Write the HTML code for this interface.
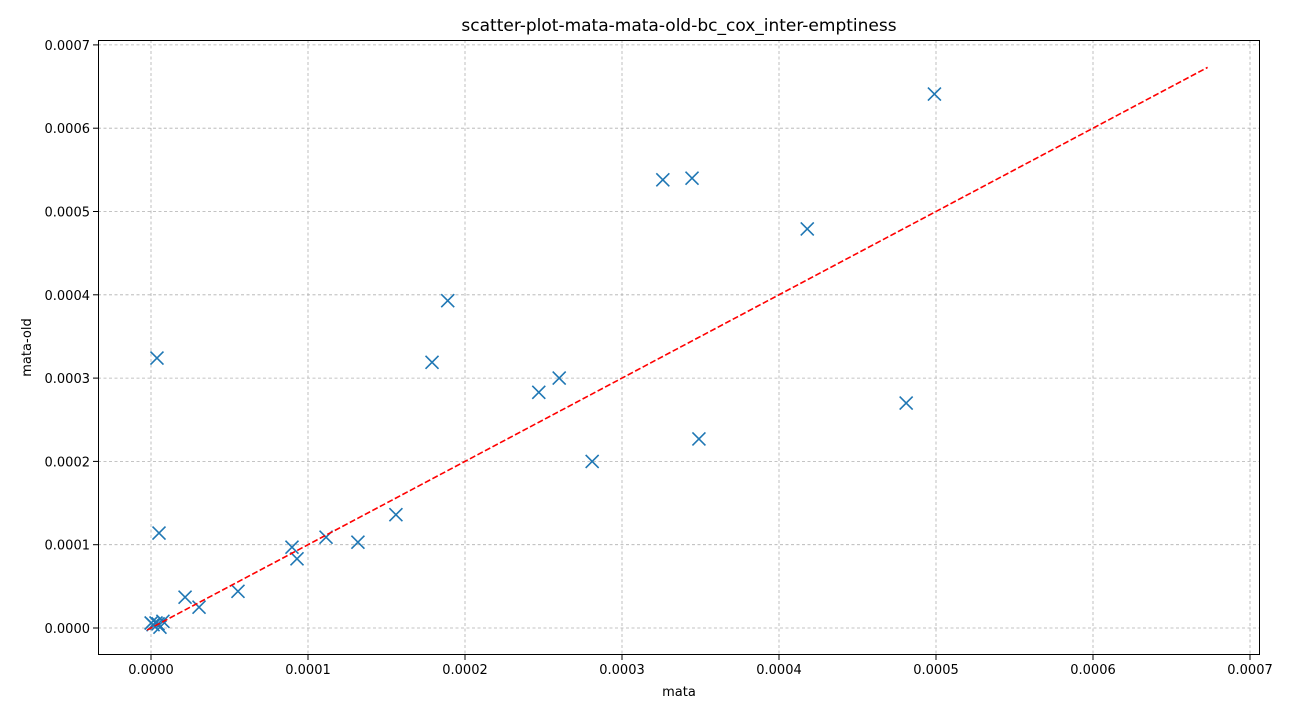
<!DOCTYPE html>
<html><head><meta charset="utf-8"><style>
body{margin:0;background:#fff;}
svg{display:block;font-family:"DejaVu Sans","Liberation Sans",sans-serif;}
</style></head><body>
<svg id="chart" width="1294" height="719" viewBox="0 0 1294 719"></svg>
<script>
const xVals=[0.0000038,0.0000051,0.0000217,0.0000306,0.0000554,0.0000898,0.000093,0.0001115,0.0001318,0.000156,0.000179,0.000189,0.000247,0.00026,0.000281,0.000326,0.0003446,0.000349,0.000418,0.000481,0.000499,0.0000001,0.0000013,0.0000032,0.0000057,0.0000076,0.0000045];
const yVals=[0.000324,0.000114,0.000037,0.000025,0.000044,0.000097,0.000083,0.000109,0.000103,0.000136,0.000319,0.000393,0.000283,0.0003,0.0002,0.000538,0.00054,0.000227,0.000479,0.00027,0.000641,0.000006,0.000004,0.000006,0.000001,0.000008,0.000005];
const xTicks=[0,0.0001,0.0002,0.0003,0.0004,0.0005,0.0006,0.0007];
const yTicks=[0,0.0001,0.0002,0.0003,0.0004,0.0005,0.0006,0.0007];
const fitLine=[-0.0000025,0.000673];

const svg=document.getElementById('chart');
const NS='http://www.w3.org/2000/svg';
const L=98,R=1260,T=40,B=655;
const sx=v=>151+v/0.0001*157;
const sy=v=>628-v/0.0001*83.3;
function mk(tag,attrs,parent){const e=document.createElementNS(NS,tag);for(const k in attrs)e.setAttribute(k,attrs[k]);(parent||svg).appendChild(e);return e;}

const grid=mk('g',{});


xTicks.forEach(t=>{
  const x=sx(t);
  const gl=mk('line',{x1:x,x2:x,y1:T,y2:B,stroke:'#b0b0b0','stroke-width':0.8,'stroke-dasharray':'3,2.5'},grid);
  
  
  mk('line',{x1:x,x2:x,y1:B,y2:B+5,stroke:'#000','stroke-width':1});
  const tx=mk('text',{x:x,y:B+19,'font-size':13,'text-anchor':'middle',fill:'#000'});
  tx.textContent=t.toFixed(4);
  
  
});
yTicks.forEach(t=>{
  const y=sy(t);
  const gl=mk('line',{x1:L,x2:R,y1:y,y2:y,stroke:'#b0b0b0','stroke-width':0.8,'stroke-dasharray':'3,2.5'},grid);
  
  
  mk('line',{x1:L-5,x2:L,y1:y,y2:y,stroke:'#000','stroke-width':1});
  const tx=mk('text',{x:L-8,y:y+5,'font-size':13,'text-anchor':'end',fill:'#000'});
  tx.textContent=t.toFixed(4);
  
  
});

const pts=mk('g',{});


const s=6.5;
xVals.forEach((xv,i)=>{
  const x=sx(xv),y=sy(yVals[i]);
  const p=mk('path',{d:`M${x-s},${y-s}L${x+s},${y+s}M${x-s},${y+s}L${x+s},${y-s}`,stroke:'#1f77b4','stroke-width':1.6,fill:'none'},pts);
  
  
});

const fl=mk('line',{x1:sx(fitLine[0]),y1:sy(fitLine[0]),x2:sx(fitLine[1]),y2:sy(fitLine[1]),stroke:'#ff0000','stroke-width':1.6,'stroke-dasharray':'6,2.5'});



const fr=mk('rect',{x:L+0.5,y:T+0.5,width:R-L-1,height:B-T-1,fill:'none',stroke:'#000','stroke-width':1});



const title=mk('text',{x:(L+R)/2,y:31,'font-size':17,'text-anchor':'middle',fill:'#000'});
title.textContent='scatter-plot-mata-mata-old-bc_cox_inter-emptiness';


const xl=mk('text',{x:(L+R)/2,y:696,'font-size':13,'text-anchor':'middle',fill:'#000'});
xl.textContent='mata';


const yl=mk('text',{x:31,y:(T+B)/2,'font-size':13,'text-anchor':'middle',fill:'#000',transform:`rotate(-90 31 ${(T+B)/2})`});
yl.textContent='mata-old';


</script>
</body></html>
